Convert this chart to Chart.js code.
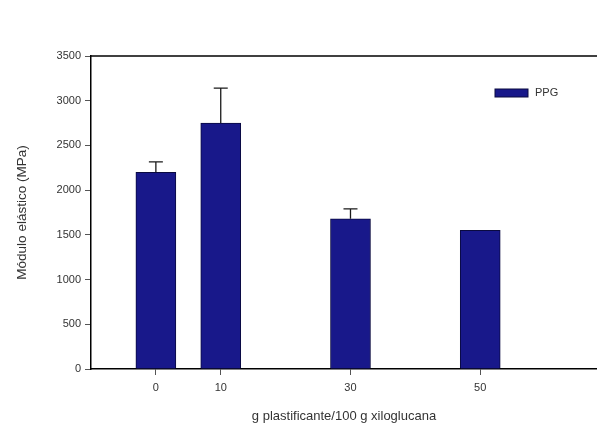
<!DOCTYPE html>
<html>
<head>
<meta charset="utf-8">
<script src="https://cdn.jsdelivr.net/npm/chart.js@4"></script>
<style>
  body { margin: 0; background: #fff; }
  #box { width: 597px; height: 425px; }
</style>
</head>
<body>
<div id="box"><canvas id="barCanvas" width="597" height="425"></canvas></div>
<script>
// plasticizer content (g / 100 g xyloglucan)
let doses = [0, 10, 30, 50];
let modulus = [2200, 2750, 1680, 1550];
let errUp = [115, 390, 110, 0];
let yTicks = [0, 500, 1000, 1500, 2000, 2500, 3000, 3500];

let barColor = '#18188a';
let fontFam = '"Liberation Sans", Arial, sans-serif';

// upper error bars, frame top line and the little legend in the corner
let extrasPlugin = {
    id: 'extras',
    afterDatasetsDraw: function (chart) {
        let ctx = chart.ctx;
        let xs = chart.scales.x, ys = chart.scales.y;
        let area = chart.chartArea;
        ctx.save();
        ctx.strokeStyle = '#1a1a1a';
        ctx.lineWidth = 1.3;
        doses.forEach(function (d, i) {
            if (!errUp[i]) return;
            let px = xs.getPixelForValue(d);
            let y0 = ys.getPixelForValue(modulus[i]);
            let y1 = ys.getPixelForValue(modulus[i] + errUp[i]);
            ctx.beginPath();
            ctx.moveTo(px, y0);
            ctx.lineTo(px, y1);
            ctx.moveTo(px - 7, y1);
            ctx.lineTo(px + 7, y1);
            ctx.stroke();
        });
        // top frame
        ctx.strokeStyle = '#000';
        ctx.lineWidth = 1.5;
        ctx.beginPath();
        ctx.moveTo(area.left, area.top);
        ctx.lineTo(area.right, area.top);
        ctx.stroke();
        // legend
        let ds = chart.data.datasets[0];
        ctx.fillStyle = barColor;
        ctx.fillRect(495, 89, 33, 8);
        ctx.strokeStyle = '#0a0a40';
        ctx.lineWidth = 1;
        ctx.strokeRect(495, 89, 33, 8);
        ctx.fillStyle = '#333';
        ctx.font = '11px ' + fontFam;
        ctx.textBaseline = 'middle';
        ctx.fillText(ds.label, 535, 93);
        ctx.restore();
    }
};

let barChartDraw = function () {
    let ctx = document.getElementById('barCanvas').getContext('2d');

    window.barChart = new Chart(ctx, {
        type: 'bar',
        data: {
            datasets: [{
                label: 'PPG',
                data: doses.map(function (d, i) { return { x: d, y: modulus[i] }; }),
                backgroundColor: barColor,
                borderColor: '#0a0a40',
                borderWidth: 1,
                barThickness: 40
            }]
        },
        options: {
            responsive: false,
            animation: false,
            layout: { padding: { top: 56, right: 0, left: 0, bottom: 0 } },
            plugins: {
                legend: { display: false },
                tooltip: { enabled: false }
            },
            scales: {
                x: {
                    type: 'linear',
                    min: -10,
                    max: 68,
                    offset: false,
                    afterBuildTicks: function (scale) {
                        scale.ticks = doses.map(function (v) { return { value: v }; });
                    },
                    afterFit: function (scale) { scale.height = 56; },
                    grid: { drawOnChartArea: false, offset: false, tickLength: 6, color: '#555' },
                    border: { color: '#000', width: 1.5 },
                    ticks: {
                        color: '#333', font: { family: fontFam, size: 11 }, padding: 6,
                        callback: function (v) { return String(v); }
                    },
                    title: {
                        display: true,
                        text: 'g plastificante/100 g xiloglucana',
                        color: '#333',
                        font: { family: fontFam, size: 13 },
                        padding: { top: 0, bottom: 1 }
                    }
                },
                y: {
                    min: 0,
                    max: 3500,
                    afterBuildTicks: function (scale) {
                        scale.ticks = yTicks.map(function (v) { return { value: v }; });
                    },
                    afterFit: function (scale) { scale.width = 91; },
                    grid: { drawOnChartArea: false, tickLength: 6, color: '#555' },
                    border: { color: '#000', width: 1.5 },
                    ticks: {
                        color: '#333', font: { family: fontFam, size: 11 }, padding: 4,
                        callback: function (v) { return String(v); }
                    },
                    title: {
                        display: true,
                        text: 'Módulo elástico (MPa)',
                        color: '#333',
                        font: { family: fontFam, size: 13.5 },
                        padding: { top: 14, bottom: 0 }
                    }
                }
            }
        },
        plugins: [extrasPlugin]
    });
};

window.onload = function () {
    barChartDraw();
};
</script>
</body>
</html>
